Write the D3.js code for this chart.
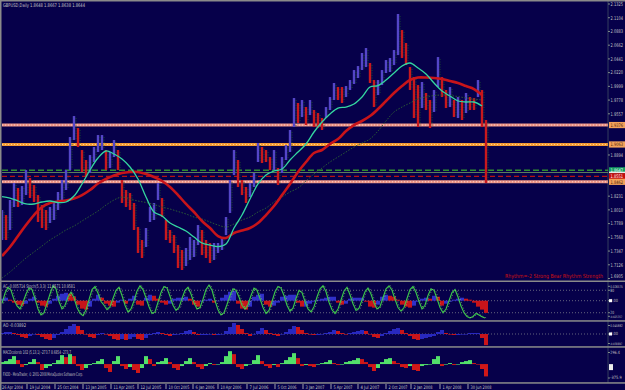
<!DOCTYPE html>
<html><head><meta charset="utf-8">
<script src="https://cdn.jsdelivr.net/npm/d3@7"></script>
<style>
html,body{margin:0;padding:0;background:#06004A;overflow:hidden}
svg{display:block}
text{font-family:"Liberation Sans Narrow","DejaVu Sans Condensed","Liberation Sans",sans-serif}
</style></head><body>
<svg id="c" width="625" height="390"></svg>
<script>
// ---------- DATA ----------
const titleText = "GBPUSD,Daily 1.8648 1.8667 1.8638 1.8644";
const priceHigh = [1.8008,1.7927,1.8169,1.8443,1.8362,1.8394,1.8652,1.8523,1.8410,1.8249,
1.8088,1.8008,1.8056,1.8121,1.8298,1.8491,1.8652,1.9183,1.9521,1.9328,
1.8974,1.8813,1.8893,1.9022,1.9215,1.9215,1.8974,1.8942,1.9135,1.8974,
1.8491,1.8330,1.8282,1.8121,1.7734,1.7525,1.7718,1.8056,1.8121,1.8443,
1.8201,1.7847,1.7686,1.7605,1.7444,1.7364,1.7396,1.7573,1.7525,1.7766,
1.7686,1.7525,1.7477,1.7477,1.7477,1.7557,1.7895,1.8491,1.8974,1.8813,
1.8491,1.8378,1.8443,1.8604,1.9087,1.9022,1.8974,1.8861,1.8974,1.8684,
1.8861,1.9054,1.9296,1.9811,1.9731,1.9779,1.9666,1.9779,1.9618,1.9570,
1.9489,1.9666,1.9827,2.0053,1.9988,1.9988,2.0004,2.0101,2.0262,2.0326,
2.0536,2.0616,2.0375,2.0101,2.0101,2.0262,2.0423,2.0455,2.0584,2.1164,
2.0906,2.0697,2.0310,2.0149,2.0020,2.0069,1.9892,1.9779,1.9940,2.0471,
2.0149,1.9940,1.9988,1.9779,1.9827,1.9779,1.9892,1.9827,1.9811,2.0101,
1.9940,1.9457];
const priceLow = [1.7525,1.7525,1.7686,1.8056,1.8056,1.8088,1.8249,1.8201,1.8137,1.7815,
1.7718,1.7686,1.7799,1.7847,1.8008,1.8169,1.8330,1.8652,1.9135,1.9022,
1.8620,1.8539,1.8604,1.8781,1.8942,1.8974,1.8652,1.8684,1.8861,1.8652,
1.8121,1.8056,1.8008,1.7686,1.7316,1.7235,1.7412,1.7815,1.7847,1.8169,
1.7895,1.7525,1.7477,1.7316,1.7074,1.7042,1.7106,1.7203,1.7251,1.7444,
1.7283,1.7235,1.7155,1.7203,1.7316,1.7364,1.7605,1.7960,1.8571,1.8378,
1.8249,1.8121,1.8217,1.8378,1.8781,1.8765,1.8781,1.8652,1.8652,1.8410,
1.8604,1.8813,1.8942,1.9344,1.9409,1.9505,1.9376,1.9537,1.9344,1.9328,
1.9296,1.9489,1.9618,1.9779,1.9779,1.9731,1.9827,1.9940,2.0037,2.0133,
2.0262,2.0310,2.0053,1.9666,1.9859,2.0020,2.0214,2.0230,2.0342,2.0503,
2.0455,2.0342,1.9940,1.9489,1.9344,1.9650,1.9618,1.9328,1.9586,1.9988,
1.9827,1.9650,1.9666,1.9505,1.9489,1.9457,1.9570,1.9618,1.9618,1.9827,
1.9344,1.8443];
// moving averages, one value every 2 samples
const maGreen = [1.8225,1.8201,1.8153,1.8105,1.8105,1.8137,1.8153,1.8129,1.8137,1.8233,
1.8427,1.8652,1.8845,1.8958,1.8910,1.8829,1.8700,1.8507,1.8217,1.7976,
1.7911,1.7799,1.7734,1.7670,1.7573,1.7477,1.7444,1.7420,1.7461,1.7718,
1.7927,1.8185,1.8427,1.8571,1.8636,1.8668,1.8813,1.8942,1.9071,1.9264,
1.9425,1.9554,1.9650,1.9666,1.9715,1.9827,1.9988,2.0012,2.0101,2.0214,
2.0326,2.0375,2.0294,2.0198,2.0053,1.9924,1.9843,1.9763,1.9747,1.9747,
1.9682];
const maRed = [1.7267,1.7412,1.7589,1.7766,1.7927,1.8056,1.8121,1.8145,1.8161,1.8193,
1.8249,1.8330,1.8435,1.8507,1.8563,1.8604,1.8620,1.8620,1.8588,1.8539,
1.8475,1.8378,1.8249,1.8105,1.7976,1.7831,1.7718,1.7589,1.7557,1.7638,
1.7678,1.7718,1.7799,1.7927,1.8072,1.8249,1.8427,1.8620,1.8781,1.8926,
1.8974,1.9071,1.9151,1.9280,1.9376,1.9441,1.9521,1.9634,1.9763,1.9892,
2.0004,2.0101,2.0141,2.0141,2.0133,2.0117,2.0085,2.0053,2.0004,1.9956,
1.9859];
const maDark = [1.6913,1.7010,1.7123,1.7235,1.7332,1.7428,1.7525,1.7605,1.7686,1.7750,
1.7831,1.7911,1.7992,1.8088,1.8169,1.8217,1.8185,1.8153,1.8129,1.8097,
1.8056,1.8024,1.7984,1.7944,1.7895,1.7863,1.7815,1.7766,1.7734,1.7783,
1.7847,1.7895,1.7976,1.8040,1.8137,1.8217,1.8298,1.8362,1.8475,1.8588,
1.8684,1.8781,1.8861,1.8942,1.9022,1.9087,1.9151,1.9280,1.9441,1.9586,
1.9666,1.9731,1.9795,1.9827,1.9851,1.9859,1.9851,1.9835,1.9811,1.9795,
1.9779];
const levelValues = [1.9376,1.9063,1.8647,1.8612,1.8551,1.8462];
const levelKinds  = ["pink","orange","greenDash","solid","redDash","pink"];
const priceTicks = [2.1325,2.1104,2.0883,2.0662,2.0441,2.0220,1.9999,1.9778,1.9557,
1.8894,1.8231,1.8010,1.7789,1.7568,1.7347,1.7126,1.6905];
const dateLabels = ["26 Apr 2004","19 Jul 2004","25 Oct 2004","13 Jan 2005","11 Apr 2005","12 Jul 2005",
"10 Oct 2005","6 Jan 2006","10 Apr 2006","7 Jul 2006","5 Oct 2006","3 Jan 2007","5 Apr 2007",
"4 Jul 2007","2 Oct 2007","2 Jan 2008","1 Apr 2008","30 Jun 2008"];
const dateIdx = [0,6.25,13.25,20.25,27.25,34,41,47.75,54,61.25,68.25,75.25,82.25,89,96,102.25,109.5,116.5];
// Stochastic main line, one value every 0.75 sample
const stochMain = [45,72,88,80,55,38,30,48,70,86, 82,58,30,14,20,45,70,92,84,50,
30,40,62,75,60,34,18,12,28,55, 82,90,72,50,40,28,36,58,80,88,
66,40,22,30,52,78,92,82,60,36, 18,22,48,74,90,86,64,40,26,34,
58,80,88,70,46,30,34,56,82,94, 80,52,28,14,20,42,66,84,80,62,
40,30,42,66,86,80,58,34,18,26, 50,76,90,86,66,40,24,32,58,80,
74,50,30,22,36,62,84,92,76,48, 28,18,30,54,78,88,68,44,26,32,
54,76,86,70,46,30,36,60,84,92, 80,56,34,24,34,58,82,90,74,50,
30,40,66,84,80,58,34,20,30,52, 74,82,62,38,20,10,6,10,18,14, 9,6];
const acValues = [0.003,0.0045,0.0015,-0.003,-0.006,-0.0075,-0.0045,0.003,0.006,-0.003,
-0.0075,-0.009,-0.0045,0.003,0.0075,0.0105,0.012,0.0105,0.006,-0.006,
-0.012,-0.0135,-0.009,0.003,0.009,0.0045,-0.0045,-0.0075,-0.009,-0.003,
0.0015,-0.0045,0.003,0.0075,-0.006,-0.0075,0.0045,0.009,0.0075,0.003,
-0.003,-0.006,-0.0045,0.003,0.0045,0.0045,0.006,0.003,-0.006,-0.009,
-0.0015,0.0015,0.003,-0.003,0,0.0045,0.009,0.0135,0.015,-0.0045,
-0.012,-0.0135,-0.009,0.006,0.009,0.0105,-0.006,-0.009,-0.0075,-0.003,
0.006,0.0075,0.009,0.009,-0.003,-0.009,-0.009,-0.0045,-0.0015,0.0015,
0.003,0.0045,0.006,0.006,-0.003,-0.006,-0.0045,0.003,0.0045,0.0045,
0.0045,-0.0015,-0.009,-0.0105,-0.006,0.006,0.009,0.0075,0.006,0.0015,
-0.006,-0.009,-0.0105,-0.0075,-0.0015,0.003,0.0045,0.003,0.0075,0.006,
-0.0075,-0.0045,-0.0015,0.0015,0.003,0.0045,0.003,0.0015,-0.003,-0.009,
-0.0135,-0.0185];
const aoValues = [0.0035,0.007,0.007,0.0035,-0.0035,-0.0105,-0.014,-0.007,0,-0.0035,
-0.0105,-0.0175,-0.021,-0.014,-0.0035,0.007,0.0175,0.028,0.035,0.028,
0.014,0,-0.0105,-0.014,-0.0035,0.0035,0,-0.007,-0.0175,-0.021,
-0.0175,-0.021,-0.0175,-0.0105,-0.0175,-0.021,-0.014,-0.0035,0.0035,0.007,
0.0035,-0.0035,-0.007,-0.0035,0,0.0035,0.0105,0.014,0.007,-0.0035,
-0.0035,-0.0035,0,-0.0035,-0.0035,0,0.0105,0.0245,0.0385,0.0315,
0.0175,0.0035,-0.007,0,0.0105,0.021,0.014,0.0035,-0.0035,-0.007,
0,0.007,0.0175,0.028,0.0245,0.014,0.0035,0,-0.0035,-0.0035,
0,0.0035,0.007,0.014,0.0105,0.0035,0,0.0035,0.007,0.0105,
0.014,0.0105,0,-0.0105,-0.014,-0.007,0.0035,0.0105,0.0175,0.021,
0.014,0.0035,-0.007,-0.0175,-0.021,-0.0175,-0.014,-0.0105,-0.007,0.007,
0.014,0.0035,0,-0.0035,-0.0035,0,0,0.0035,0.0035,0.0035,
-0.014,-0.0389];
const macdValues = [44,66,110,176,88,-66,-22,44,110,44, -132,-88,-44,22,88,198,154,220,176,-44,
-132,-88,-22,22,66,110,-88,-176,66,176, -44,-110,-66,-132,-198,-88,176,110,-44,44,
66,132,44,-88,-132,-44,66,132,44,-66, -110,-44,22,-22,0,44,176,286,220,-66,
-110,-44,0,88,198,66,-44,-88,-22,-66, 22,88,154,242,132,-44,-22,-44,-66,0,
22,44,88,22,-22,0,44,66,88,132, 110,44,-66,-154,-88,44,110,132,66,22,
-66,-88,-44,-132,-154,-44,-22,0,110,176, -44,0,22,-22,0,44,66,88,22,0,
-110,-273.7];
const panelTitles = ["AC -0.005714  Stoch(5,3,3) 11.9571 10.9581","AO -0.03892","MACDcolorsb 102 (5,13,1) -273.7 8.6854 -273.7"];
const footerText = "FXDD - MetaTrader, \u00A9 2001-2008 MetaQuotes Software Corp.";
const rhythmText = "Rhythm=-2 Strong Bear Rhythm Strength";
const indLabelText = ["0.026575","80","0.00","20","-0.025357","0.045882","0.00","-0.038897","296.4","-375.9"];

// ---------- DRAWING ----------
const W=625,H=390, BG="#06004A", TXT="#c4c4c4";
const svg=d3.select("#c");
svg.append("rect").attr("width",W).attr("height",H).attr("fill",BG);

const x=d3.scaleLinear().domain([0,121]).range([2,486]);
const y=d3.scaleLinear().domain([1.6881,2.1325]).range([280,4]);
const axisX=608;

function label(g,str,px,py,o={}){
  const fs=o.fs||5, per=o.per||2.1;
  return g.append("text").attr("x",px).attr("y",py).text(str)
    .attr("font-size",fs).attr("fill",o.fill||TXT)
    .attr("text-anchor",o.anchor||"start")
    .attr("textLength",o.len||str.length*per).attr("lengthAdjust","spacingAndGlyphs");
}

const defs=svg.append("defs");
defs.append("clipPath").attr("id","mc").append("rect").attr("x",2).attr("y",2).attr("width",axisX-2).attr("height",278);
const main=svg.append("g").attr("clip-path","url(#mc)");

// horizontal levels
levelValues.forEach((v,i)=>{
  const k=levelKinds[i], yy=y(v);
  const ln=()=>main.append("line").attr("x1",2).attr("x2",axisX).attr("y1",yy).attr("y2",yy);
  if(k==="pink"){ ln().attr("stroke","#EC9486").attr("stroke-width",3); ln().attr("stroke","#FFD6CA").attr("stroke-width",1).attr("stroke-dasharray","1,2"); }
  if(k==="orange"){ ln().attr("stroke","#F29A34").attr("stroke-width",3); ln().attr("stroke","#FFD98A").attr("stroke-width",1).attr("stroke-dasharray","1,2"); }
  if(k==="greenDash"){ ln().attr("stroke","#2F8F2F").attr("stroke-width",1.5).attr("stroke-dasharray","6,3"); }
  if(k==="solid"){ ln().attr("stroke","#5E7E5E").attr("stroke-width",1); }
  if(k==="redDash"){ ln().attr("stroke","#B41414").attr("stroke-width",1.2).attr("stroke-dasharray","5,3"); }
});

// price bars
const mids=priceHigh.map((h,i)=>(h+priceLow[i])/2);
main.selectAll("rect.bar").data(priceHigh).join("rect").attr("class","bar")
  .attr("x",(d,i)=>x(i)-1.2).attr("width",2.4)
  .attr("y",d=>y(d)).attr("height",(d,i)=>Math.max(1,y(priceLow[i])-y(d)))
  .attr("fill",(d,i)=> (i===0||mids[i]>=mids[i-1])?"#5446C8":"#C8181E");
main.selectAll("line.wick").data(priceHigh).join("line").attr("class","wick")
  .attr("x1",(d,i)=>x(i)+2).attr("x2",(d,i)=>x(i)+2)
  .attr("y1",d=>y(d)+2).attr("y2",(d,i)=>y(priceLow[i])-1)
  .attr("stroke","#1E5E2A").attr("stroke-width",0.8).attr("stroke-dasharray","1,1.5");

// moving averages
const maLine=d3.line().x((d,i)=>x(i*2)).y(d=>y(d)).curve(d3.curveCatmullRom);
main.append("path").attr("d",maLine(maDark)).attr("fill","none").attr("stroke","#2A5A36").attr("stroke-width",1).attr("stroke-dasharray","1.5,1.5");
main.append("path").attr("d",maLine(maRed)).attr("fill","none").attr("stroke","#C8141A").attr("stroke-width",2.6);
main.append("path").attr("d",maLine(maGreen)).attr("fill","none").attr("stroke","#34D6A0").attr("stroke-width",1.3);

// rhythm text and title
label(svg,rhythmText,603,277.5,{fill:"#D01010",anchor:"end",len:98,fs:5.6});
label(svg,titleText,3,7,{len:82});

// ---------- indicator panels ----------
const acY=d3.scaleLinear().domain([-0.025,0.025]).range([317.2,284.2]);
const stY=d3.scaleLinear().domain([0,100]).range([320.2,282.8]);
const aoY=d3.scaleLinear().domain([-0.042,0.042]).range([346,322]);
const mcY=d3.scaleLinear().domain([-375.9,296.4]).range([381,350.7]);

function dotted(g,yy){ g.append("line").attr("x1",2).attr("x2",axisX).attr("y1",yy).attr("y2",yy)
  .attr("stroke","#7c7c8c").attr("stroke-width",0.8).attr("stroke-dasharray","1,2"); }
function hist(g,vals,sc,up,down){
  g.selectAll(null).data(vals).join("rect")
   .attr("x",(d,i)=>x(i)-2).attr("width",4)
   .attr("y",d=>Math.min(sc(d),sc(0))).attr("height",d=>Math.max(0.6,Math.abs(sc(d)-sc(0))))
   .attr("fill",(d,i)=>(i===0||d>=vals[i-1])?up:down);
}
const p1=svg.append("g");
dotted(p1,stY(80)); dotted(p1,acY(0)); dotted(p1,stY(20));
hist(p1,acValues,acY,"#3030C8","#C8141A");
p1.append("path").attr("d",d3.line().x((d,i)=>x(i*0.75)).y(d=>stY(d))(stochMain))
  .attr("fill","none").attr("stroke","#3CCB4A").attr("stroke-width",1.1);
p1.append("path").attr("d",d3.line().x((d,i)=>x(i*0.75)+1.5).y(d=>stY(d))(stochMain))
  .attr("fill","none").attr("stroke","#9ADF7A").attr("stroke-width",0.6).attr("stroke-dasharray","1,2");

const p2=svg.append("g");
dotted(p2,aoY(0));
hist(p2,aoValues,aoY,"#2828C0","#C8141A");

const p3=svg.append("g");
hist(p3,macdValues,mcY,"#52E06A","#D01818");

// panel titles
label(svg,panelTitles[0],3,288,{len:72});
label(svg,panelTitles[1],3,327,{len:23});
label(svg,panelTitles[2],3,354,{len:68});
label(svg,footerText,3,376,{len:80});

// separators and frame
[[0,0,W,1.5],[0,0,1.5,H],[0,280.5,W,1.5],[0,320.2,W,1.5],[0,346.2,W,1.5],[0,382.2,W,1.5]]
  .forEach(r=>svg.append("rect").attr("x",r[0]).attr("y",r[1]).attr("width",r[2]).attr("height",r[3]).attr("fill","#8a8a8a"));

// right axis
svg.append("line").attr("x1",axisX).attr("x2",axisX).attr("y1",1.5).attr("y2",383)
  .attr("stroke","#7c9a7c").attr("stroke-width",0.8).attr("stroke-dasharray","1,1");
priceTicks.forEach(v=>{
  const yy=y(v);
  svg.append("line").attr("x1",axisX).attr("x2",axisX+2).attr("y1",yy).attr("y2",yy).attr("stroke","#9aa89a").attr("stroke-width",0.8);
  label(svg,v.toFixed(4),610.5,Math.max(6,Math.min(277.5,yy+1.8)),{len:12.5});
});
// level boxes
const boxFill={pink:"#F4A25A",orange:"#F4A25A",greenDash:"#14A064",solid:"#E8E8E8",redDash:"#C40C0C"};
const boxTxt={pink:"#40200a",orange:"#40200a",greenDash:"#ffffff",solid:"#303030",redDash:"#ffffff"};
levelValues.forEach((v,i)=>{
  const k=levelKinds[i]; const yy=y(v); const h=(k==="solid")?1.6:6.2;
  svg.append("rect").attr("x",axisX+1).attr("y",yy-h/2).attr("width",16).attr("height",h).attr("fill",boxFill[k]);
  if(k!=="solid") label(svg,v.toFixed(4),axisX+2.5,yy+1.8,{len:12.5,fill:boxTxt[k],fs:4.8});
});
// indicator axis labels (kept clear of the panel separators)
const indLabelY=[286.3,stY(80),acY(0),stY(20),316.3,325.5,aoY(0),343.5,mcY(296.4)+1.8,378];
indLabelText.forEach((s,i)=>{
  const yy=indLabelY[i];
  svg.append("line").attr("x1",axisX).attr("x2",axisX+2).attr("y1",yy).attr("y2",yy).attr("stroke","#9aa89a").attr("stroke-width",0.8);
  const len=Math.min(12.5,s.length*1.9);
  const fs=s.length>8?3.2:(s.length>6?3.6:4.4);
  label(svg,s,s.length>8?609.8:610.3,yy+1.4,{len:len,fs:fs});
});
[acY(0),aoY(0)].forEach(yy=>svg.append("rect").attr("x",609).attr("y",yy-1.5).attr("width",3).attr("height",3).attr("fill","#ffffff"));
svg.append("rect").attr("x",609).attr("y",mcY(-90)-4).attr("width",4).attr("height",6).attr("fill","#ececec");

// date axis
dateLabels.forEach((s,i)=>{
  const px=x(dateIdx[i]);
  if(i>0) svg.append("line").attr("x1",px).attr("x2",px).attr("y1",384).attr("y2",389).attr("stroke",TXT).attr("stroke-width",0.8);
  label(svg,s,i===0?2:px+2.5,388.5,{len:s.length*1.9,fs:4.8});
});
</script>
</body></html>
